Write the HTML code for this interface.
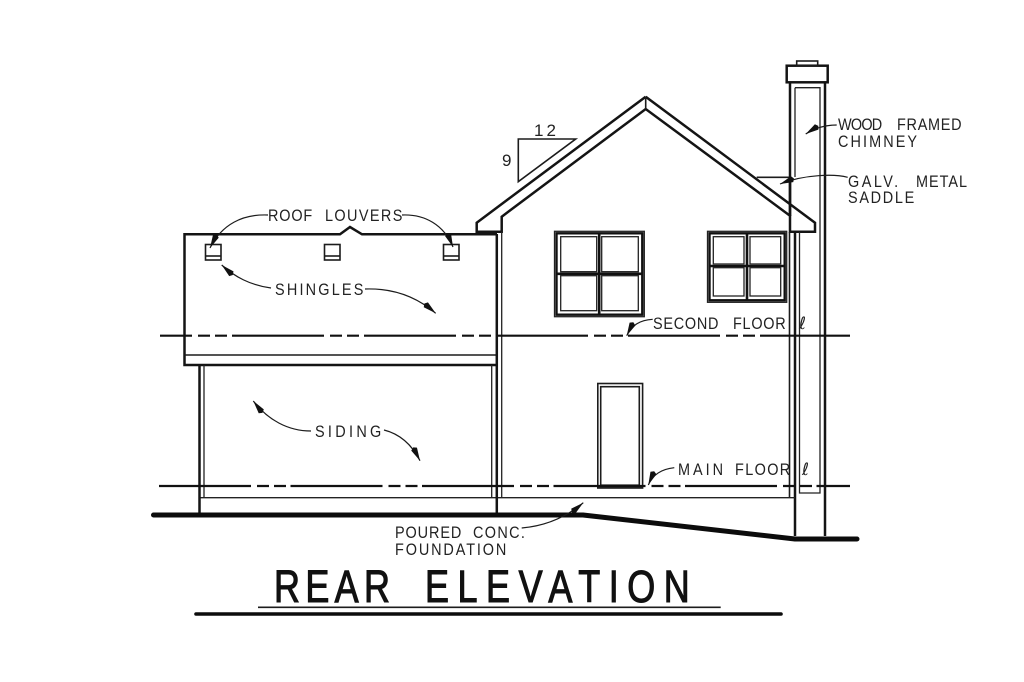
<!DOCTYPE html>
<html>
<head>
<meta charset="utf-8">
<style>
html,body{margin:0;padding:0;background:#fff;width:1024px;height:682px;overflow:hidden}
svg{display:block}
.l{fill:none;stroke:#1c1c1c;stroke-width:1.6}
.b{fill:none;stroke:#141414;stroke-width:2.5}
.t{fill:none;stroke:#222;stroke-width:1.3}
.a{fill:none;stroke:#1c1c1c;stroke-width:1.2}
text{font-family:"Liberation Sans",sans-serif;font-size:17px;fill:#222}
</style>
</head>
<body>
<svg width="1024" height="682" viewBox="0 0 1024 682" xmlns="http://www.w3.org/2000/svg">
<defs>
<marker id="h" markerUnits="userSpaceOnUse" markerWidth="18" markerHeight="7" viewBox="0 0 18 7" refX="18" refY="3.5" orient="auto">
<polygon points="18,3.5 5,0.3 3,3.5 5,6.7" fill="#111"/>
</marker>
</defs>
<rect width="1024" height="682" fill="#fff"/>

<!-- left lower roof -->
<path class="b" d="M497 234.3H362L350 227L340 234.3H184.5V365H497"/>
<path class="l" d="M184.5 355H497"/>
<!-- louvers -->
<g class="l">
<rect x="205.5" y="244.5" width="15.5" height="15.5"/><path d="M205.5 256H221"/>
<rect x="324.5" y="244.5" width="15.5" height="15.5"/><path d="M324.5 256H340"/>
<rect x="443.5" y="244.5" width="15.5" height="15.5"/><path d="M443.5 256H459"/>
</g>

<!-- main gable roof -->
<path class="b" d="M645.7 96.7L476.7 222.7V231.7H501.7V216.7L645.7 109L790 215.7V231.7H815V222.7L645.7 96.7"/>
<path class="l" d="M645.7 96.7V109"/>

<!-- pitch triangle -->
<path class="l" d="M575.7 139H518.3V181.7Z"/>
<text x="534" y="136" textLength="22" lengthAdjust="spacing">12</text>
<text x="502" y="166">9</text>

<!-- saddle -->
<path class="l" d="M756.7 177.3H790"/>

<!-- chimney -->
<path class="b" d="M790 177V216M825 82.3V536M795 232V536"/>
<path class="b" d="M790 82.3V216"/>
<rect class="b" x="786.7" y="65.7" width="41" height="16.6" fill="#fff"/>
<rect class="l" x="796.7" y="61" width="21" height="4.7"/>
<path class="t" d="M795 87.7V177M795 87.7H820V493H799.5V232"/>
<path class="l" d="M789.5 232V498"/>

<!-- walls -->
<path class="t" d="M491.7 365V497.7M199.5 497.7H795M204 365V497.7M501.7 231.7V497.7"/>
<path class="b" d="M496.8 234V515M199.5 365V515"/>

<!-- windows -->
<g>
<rect class="t" x="554.5" y="231.3" width="89.8" height="85.4"/>
<rect x="556.5" y="233.3" width="85.8" height="81.4" fill="none" stroke="#111" stroke-width="2.4"/>
<path d="M599.2 233V314.5M557 273.8H642" fill="none" stroke="#111" stroke-width="2.6"/>
<g class="t">
<rect x="560.7" y="236.7" width="36" height="35"/><rect x="601.7" y="236.7" width="36.6" height="35"/>
<rect x="560.7" y="275.7" width="36" height="35"/><rect x="601.7" y="275.7" width="36.6" height="35"/>
</g>
<rect class="t" x="707.5" y="231.3" width="79.2" height="71"/>
<rect x="709.5" y="233.3" width="75.2" height="67" fill="none" stroke="#111" stroke-width="2.4"/>
<path d="M747 233V300M710 266H784" fill="none" stroke="#111" stroke-width="2.6"/>
<g class="t">
<rect x="713.3" y="236.7" width="30.7" height="27.3"/><rect x="750" y="236.7" width="30.7" height="27.3"/>
<rect x="713.3" y="267.7" width="30.7" height="28.3"/><rect x="750" y="267.7" width="30.7" height="28.3"/>
</g>
</g>

<!-- door -->
<rect class="l" x="597.8" y="383.5" width="44.8" height="104.5"/>
<rect class="l" x="600.7" y="386.7" width="38.6" height="98.5"/>
<path d="M598 486.8H642" stroke="#222" stroke-width="3" fill="none"/>

<!-- floor lines -->
<path fill="none" stroke="#111" stroke-width="2.2" stroke-dasharray="92 6 12 5 12 5" stroke-dashoffset="60" d="M160 335.7H850"/>
<path fill="none" stroke="#111" stroke-width="2.2" stroke-dasharray="92 6 12 5 12 4.5" d="M159 486H850"/>

<!-- ground -->
<path fill="none" stroke="#0c0c0c" stroke-width="5" stroke-linecap="round" stroke-linejoin="round" d="M153.5 515H583L795 539H857"/>

<!-- leaders -->
<g class="a">
<path marker-end="url(#h)" d="M268 215C243 214 222 224 210 248"/>
<path marker-end="url(#h)" d="M402 215C425 214 444 225 453 247"/>
<path marker-end="url(#h)" d="M271 288C250 285 235 277 221.7 265"/>
<path marker-end="url(#h)" d="M365 289C395 288 418 298 435.7 313.3"/>
<path marker-end="url(#h)" d="M311 431C288 431 268 420 253.3 401"/>
<path marker-end="url(#h)" d="M384 430C400 434 412 445 420 460.7"/>
<path marker-end="url(#h)" d="M836.7 125C825 125 815 128 805.7 134"/>
<path marker-end="url(#h)" d="M847.7 177.3C835 174 805 174 780 184"/>
<path marker-end="url(#h)" d="M652.7 319.3C640 320 632 325 626.7 335.7"/>
<path marker-end="url(#h)" d="M674.3 467.7C662 469 653 474 648.3 485"/>
<path marker-end="url(#h)" d="M521.7 528C545 526 565 518 583.3 502.7"/>
</g>

<!-- labels -->
<text transform="translate(268 221) scale(.85 1)" textLength="52" lengthAdjust="spacing">ROOF</text>
<text transform="translate(325 221) scale(.85 1)" textLength="91" lengthAdjust="spacing">LOUVERS</text>
<text transform="translate(275 295) scale(.85 1)" textLength="104" lengthAdjust="spacing">SHINGLES</text>
<text transform="translate(315 437) scale(.85 1)" textLength="78" lengthAdjust="spacing">SIDING</text>
<text transform="translate(838 130) scale(.85 1)" textLength="52" lengthAdjust="spacing">WOOD</text>
<text transform="translate(897 130) scale(.85 1)" textLength="76" lengthAdjust="spacing">FRAMED</text>
<text transform="translate(838 147) scale(.85 1)" textLength="93" lengthAdjust="spacing">CHIMNEY</text>
<text transform="translate(848 187) scale(.85 1)" textLength="59" lengthAdjust="spacing">GALV.</text>
<text transform="translate(916 187) scale(.85 1)" textLength="60" lengthAdjust="spacing">METAL</text>
<text transform="translate(848 203) scale(.85 1)" textLength="78" lengthAdjust="spacing">SADDLE</text>
<text transform="translate(653 329) scale(.85 1)" textLength="77" lengthAdjust="spacing">SECOND</text>
<text transform="translate(733 329) scale(.85 1)" textLength="62" lengthAdjust="spacing">FLOOR</text>
<text x="799" y="329" style="font-family:'DejaVu Sans',sans-serif">ℓ</text>
<text transform="translate(678 475) scale(.85 1)" textLength="53" lengthAdjust="spacing">MAIN</text>
<text transform="translate(735 475) scale(.85 1)" textLength="65" lengthAdjust="spacing">FLOOR</text>
<text x="802" y="475" style="font-family:'DejaVu Sans',sans-serif">ℓ</text>
<text transform="translate(395 538) scale(.85 1)" textLength="78" lengthAdjust="spacing">POURED</text>
<text transform="translate(473 538) scale(.85 1)" textLength="61" lengthAdjust="spacing">CONC.</text>
<text transform="translate(395 555) scale(.85 1)" textLength="131" lengthAdjust="spacing">FOUNDATION</text>

<!-- title -->
<g style="stroke:#111;stroke-width:1.1">
<text transform="translate(274 602) scale(.8 1)" textLength="145" lengthAdjust="spacing" style="font-size:45px;fill:#111">REAR</text>
<text transform="translate(425 602) scale(.8 1)" textLength="331" lengthAdjust="spacing" style="font-size:45px;fill:#111">ELEVATION</text>
</g>
<path d="M258 607.3H720.7" stroke="#1c1c1c" stroke-width="1.6" fill="none"/>
<path d="M196 614H781" stroke="#0c0c0c" stroke-width="3.6" stroke-linecap="round" fill="none"/>
</svg>
</body>
</html>
